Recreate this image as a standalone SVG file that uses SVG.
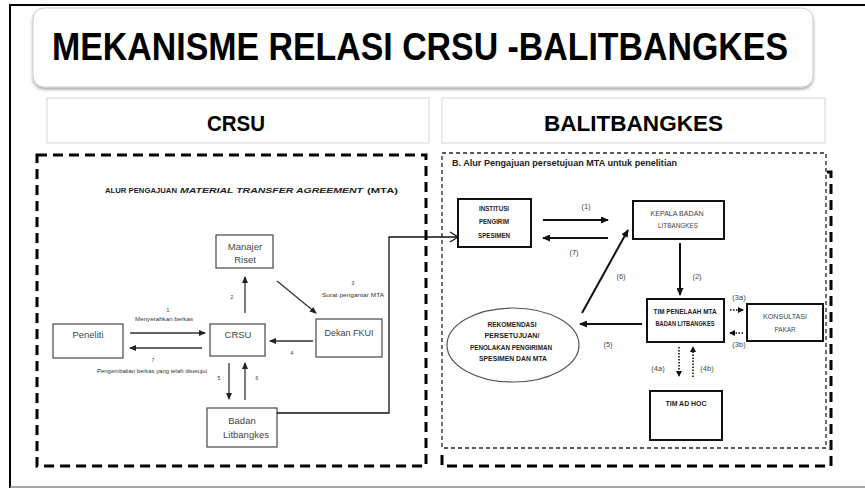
<svg xmlns="http://www.w3.org/2000/svg" width="865" height="489" viewBox="0 0 865 489">
<style>
.t{font-family:"Liberation Sans",Arial,sans-serif;}
.b{font-weight:bold;}
.lbox{fill:#fff;stroke:#555;stroke-width:1.3;}
.ltx{font-family:"Liberation Sans",Arial,sans-serif;font-size:9.5px;fill:#444;text-anchor:middle;}
.lsm{font-family:"Liberation Sans",Arial,sans-serif;font-size:5px;fill:#333;text-anchor:middle;}
.la{stroke:#333;stroke-width:1.3;fill:none;marker-end:url(#ah1);}
.rbox{fill:#fff;stroke:#111;stroke-width:2;}
.rtx{font-family:"Liberation Sans",Arial,sans-serif;font-size:7px;font-weight:bold;fill:#222;text-anchor:middle;}
.rtl{font-family:"Liberation Sans",Arial,sans-serif;font-size:7px;fill:#444;text-anchor:middle;}
.rlab{font-family:"Liberation Sans",Arial,sans-serif;font-size:7.5px;fill:#444;text-anchor:middle;}
.ra{stroke:#111;stroke-width:2;fill:none;marker-end:url(#ah2);}
.rd{stroke:#111;stroke-width:1.6;fill:none;stroke-dasharray:1.5 1.5;marker-end:url(#ah3);}
</style>
<defs>
<filter id="sh" x="-5%" y="-10%" width="110%" height="130%">
<feDropShadow dx="0" dy="2" stdDeviation="1.5" flood-color="#000" flood-opacity="0.35"/>
</filter>
<marker id="ah1" markerUnits="userSpaceOnUse" markerWidth="7" markerHeight="6" refX="6" refY="3" orient="auto"><path d="M0,0 L7,3 L0,6 Z" fill="#222"/></marker>
<marker id="ah2" markerUnits="userSpaceOnUse" markerWidth="8" markerHeight="7" refX="7" refY="3.5" orient="auto"><path d="M0,0 L8,3.5 L0,7 Z" fill="#111"/></marker>
<marker id="ah3" markerUnits="userSpaceOnUse" markerWidth="6" markerHeight="6" refX="5" refY="3" orient="auto"><path d="M0,0 L6,3 L0,6 Z" fill="#111"/></marker>
</defs>
<rect width="865" height="489" fill="#fff"/>
<!-- outer frame -->
<path d="M10,488 L10,5 L865,5" fill="none" stroke="#000" stroke-width="2"/>
<line x1="10" y1="487" x2="865" y2="487" stroke="#888" stroke-width="1.5"/>

<g id="title">
<rect x="33" y="8" width="780" height="79" rx="11" fill="#fff" stroke="#ccc" stroke-width="1" filter="url(#sh)"/>
<text class="t b" transform="translate(52,60) scale(1,1.17)" x="0" y="0" font-size="33.5" textLength="736" lengthAdjust="spacingAndGlyphs">MEKANISME RELASI CRSU -BALITBANGKES</text>
</g>

<g id="hdr-crsu">
<rect x="47" y="98" width="382" height="45" fill="#fff" stroke="#d6d6d6" stroke-width="1"/>
<text class="t b" x="207" y="131" font-size="22" textLength="58" lengthAdjust="spacingAndGlyphs">CRSU</text>
</g>
<g id="hdr-balit">
<rect x="442" y="98" width="383" height="45" fill="#fff" stroke="#d6d6d6" stroke-width="1"/>
<text class="t b" x="544" y="131" font-size="22" textLength="179" lengthAdjust="spacingAndGlyphs">BALITBANGKES</text>
</g>

<!-- panel frames -->
<g id="frames">
<rect x="37" y="155" width="389" height="311" fill="none" stroke="#000" stroke-width="3" stroke-dasharray="10 6"/>
<path d="M827,172 L831,172 L831,466 L442,466 L442,455" fill="none" stroke="#000" stroke-width="3" stroke-dasharray="10 6"/>
<rect x="442" y="153" width="384" height="295" fill="#fff" stroke="#222" stroke-width="1.3" stroke-dasharray="4 3"/>
</g>

<!-- left panel text -->
<g id="left-title">
<text class="t b" x="105" y="193" font-size="8" fill="#222" textLength="72" lengthAdjust="spacingAndGlyphs">ALUR PENGAJUAN</text>
<text class="t b" x="180" y="193" font-size="8" font-style="italic" fill="#222" textLength="183" lengthAdjust="spacingAndGlyphs">MATERIAL TRANSFER AGREEMENT</text>
<text class="t b" x="367" y="193" font-size="8" fill="#222" textLength="31" lengthAdjust="spacingAndGlyphs">(MTA)</text>
</g>

<g id="manajer">
<rect class="lbox" x="216" y="235" width="57" height="33"/>
<text class="ltx" x="245" y="250">Manajer</text>
<text class="ltx" x="245" y="263">Riset</text>
</g>
<g id="peneliti">
<rect class="lbox" x="53" y="324" width="70" height="34"/>
<text class="ltx" x="88" y="338">Peneliti</text>
</g>
<g id="crsu">
<rect class="lbox" x="210" y="324" width="55" height="32"/>
<text class="ltx" x="238" y="338">CRSU</text>
</g>
<g id="dekan">
<rect class="lbox" x="316" y="319" width="66" height="38"/>
<text class="ltx" x="349" y="336" textLength="49" lengthAdjust="spacingAndGlyphs">Dekan FKUI</text>
</g>
<g id="badan">
<rect class="lbox" x="207" y="408" width="70" height="39"/>
<text class="ltx" x="242" y="424">Badan</text>
<text class="ltx" x="246" y="438">Litbangkes</text>
</g>

<!-- right panel -->
<g id="right-title">
<text class="t b" x="452" y="166" font-size="8.5" fill="#222" textLength="225" lengthAdjust="spacingAndGlyphs">B. Alur Pengajuan persetujuan MTA untuk penelitian</text>
</g>
<g id="institusi">
<rect class="rbox" x="458" y="199" width="73" height="48"/>
<text class="rtx" x="494" y="211" textLength="30" lengthAdjust="spacingAndGlyphs">INSTITUSI</text>
<text class="rtx" x="494" y="224" textLength="30" lengthAdjust="spacingAndGlyphs">PENGIRIM</text>
<text class="rtx" x="494" y="238" textLength="32" lengthAdjust="spacingAndGlyphs">SPESIMEN</text>
</g>
<g id="kepala">
<rect class="rbox" x="633" y="201" width="91" height="38"/>
<text class="rtl" x="677" y="216" textLength="53" lengthAdjust="spacingAndGlyphs">KEPALA BADAN</text>
<text class="rtl" x="678" y="228" textLength="40" lengthAdjust="spacingAndGlyphs">LITBANGKES</text>
</g>
<g id="tim-penelaah">
<rect class="rbox" x="647" y="299" width="77" height="43"/>
<text class="rtx" x="685" y="314" textLength="63" lengthAdjust="spacingAndGlyphs">TIM PENELAAH MTA</text>
<text class="rtx" x="685" y="326" textLength="59" lengthAdjust="spacingAndGlyphs">BADAN LITBANGKES</text>
</g>
<g id="konsultasi">
<rect class="rbox" x="747" y="304" width="76" height="37"/>
<text class="rtl" x="785" y="319" textLength="44" lengthAdjust="spacingAndGlyphs">KONSULTASI</text>
<text class="rtl" x="785" y="332" textLength="21" lengthAdjust="spacingAndGlyphs">PAKAR</text>
</g>
<g id="rekomendasi">
<ellipse cx="513" cy="345" rx="66" ry="37" fill="#fff" stroke="#555" stroke-width="1.2"/>
<text class="rtx" x="512" y="327" textLength="49" lengthAdjust="spacingAndGlyphs">REKOMENDASI</text>
<text class="rtx" x="512" y="338" textLength="55" lengthAdjust="spacingAndGlyphs">PERSETUJUAN/</text>
<text class="rtx" x="511" y="350" textLength="82" lengthAdjust="spacingAndGlyphs">PENOLAKAN PENGIRIMAN</text>
<text class="rtx" x="513" y="361" textLength="68" lengthAdjust="spacingAndGlyphs">SPESIMEN DAN MTA</text>
</g>
<g id="tim-adhoc">
<rect class="rbox" x="650" y="391" width="72" height="49"/>
<text class="rtx" x="686" y="406" textLength="41" lengthAdjust="spacingAndGlyphs">TIM AD HOC</text>
</g>

<!-- connectors -->
<g id="connectors">
<line class="la" x1="245" y1="313" x2="245" y2="277"/>
<line class="la" x1="277" y1="281" x2="316" y2="313"/>
<line class="la" x1="130" y1="333" x2="205" y2="333"/>
<line class="la" x1="202" y1="348" x2="130" y2="348"/>
<line class="la" x1="313" y1="341" x2="270" y2="341"/>
<line class="la" x1="229" y1="363" x2="229" y2="399"/>
<line class="la" x1="245" y1="400" x2="245" y2="363"/>
<text class="lsm" x="232" y="299">2</text>
<text class="lsm" x="353" y="285">3</text>
<text class="lsm" x="353" y="297" textLength="62" lengthAdjust="spacingAndGlyphs">Surat pengantar MTA</text>
<text class="lsm" x="168" y="312">1</text>
<text class="lsm" x="164" y="321" textLength="58" lengthAdjust="spacingAndGlyphs">Menyerahkan berkas</text>
<text class="lsm" x="153" y="362">7</text>
<text class="lsm" x="152" y="373" textLength="110" lengthAdjust="spacingAndGlyphs">Pengembalian berkas yang telah disetujui</text>
<text class="lsm" x="292" y="355">4</text>
<text class="lsm" x="219" y="380">5</text>
<text class="lsm" x="257" y="380">6</text>
<polyline points="277,413 389,413 389,237 457,237" fill="none" stroke="#111" stroke-width="1.3"/>
<polyline points="450,232 458,237 450,242" fill="none" stroke="#111" stroke-width="1.3"/>
<line class="ra" x1="543" y1="220" x2="608" y2="220"/>
<line class="ra" x1="608" y1="238" x2="543" y2="238"/>
<line class="ra" x1="680" y1="243" x2="680" y2="295"/>
<line class="ra" x1="582" y1="313" x2="628" y2="230"/>
<line class="ra" x1="642" y1="324" x2="580" y2="324"/>
<line class="rd" x1="730" y1="310" x2="743" y2="310"/>
<line class="rd" x1="743" y1="333" x2="730" y2="333"/>
<line class="rd" x1="679" y1="347" x2="679" y2="376"/>
<line class="rd" x1="693" y1="377" x2="693" y2="347"/>
<text class="rlab" x="586" y="209">(1)</text>
<text class="rlab" x="574" y="255">(7)</text>
<text class="rlab" x="697" y="279">(2)</text>
<text class="rlab" x="621" y="279">(6)</text>
<text class="rlab" x="608" y="347">(5)</text>
<text class="rlab" x="739" y="300">(3a)</text>
<text class="rlab" x="739" y="347">(3b)</text>
<text class="rlab" x="658" y="371">(4a)</text>
<text class="rlab" x="707" y="371">(4b)</text>
</g>
</svg>
